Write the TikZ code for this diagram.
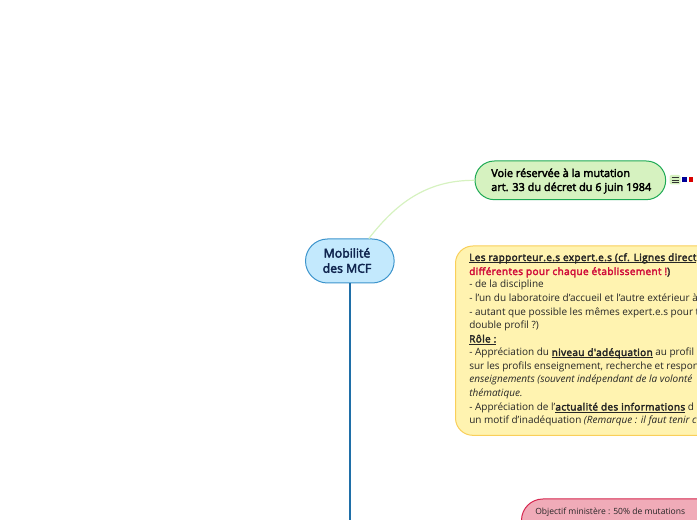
\documentclass[tikz,border=0pt]{standalone}
\usepackage{fontspec}
\setmainfont{Open Sans}
\newfontfamily\fauxbold[FakeBold=3.2]{Open Sans}
\newfontfamily\fauxboldsp[FakeBold=3.2,LetterSpace=3.6]{Open Sans}
\newcommand\fb[1]{{\fauxboldsp #1}}
\newcommand\ulbox[1]{\setbox0=\hbox{#1}\relax\rlap{\rule[-1.5pt]{\wd0}{0.55pt}}\box0\relax}
\definecolor{rootfill}{HTML}{C3E9FD}
\definecolor{rootline}{HTML}{3C94CC}
\definecolor{trunk}{HTML}{1F6FA8}
\definecolor{greenfill}{HTML}{D6F2C0}
\definecolor{greenline}{HTML}{1FAA55}
\definecolor{branch}{HTML}{D6F2C0}
\definecolor{yellowfill}{HTML}{FFF3B0}
\definecolor{yellowline}{HTML}{F9CF5A}
\definecolor{pinkfill}{HTML}{F0ABB8}
\definecolor{pinkline}{HTML}{D6264F}
\definecolor{navy}{HTML}{10254F}
\definecolor{redtext}{HTML}{D00F3C}
\tikzset{
  x=0.75pt,y=-0.75pt,
  rootnode/.style={draw=rootline,fill=rootfill,line width=0.75pt,rounded corners=16.5pt,minimum width=66.5pt,minimum height=33pt,inner sep=0pt},
  rootlabel/.style={inner sep=0pt,align=center,text=navy,font=\fontsize{9.2pt}{11.4pt}\fauxbold},
  voienode/.style={draw=greenline,fill=greenfill,line width=0.75pt,rounded corners=14.5pt,minimum width=143pt,minimum height=29pt,inner sep=0pt},
  voietext/.style={anchor=base west,inner sep=0pt,font=\fontsize{8.2pt}{11pt}\fauxbold,text=black},
  yellownode/.style={draw=yellowline,fill=yellowfill,line width=0.75pt,rounded corners=13pt,minimum width=300pt,minimum height=142pt,inner sep=0pt},
  pinknode/.style={draw=pinkline,fill=pinkfill,line width=0.75pt,rounded corners=16pt,minimum width=200pt,minimum height=60pt,inner sep=0pt},
  bodytext/.style={anchor=base west,inner sep=0pt,font=\fontsize{7.5pt}{9pt}\selectfont,text=black!85}
}
\begin{document}
\begin{tikzpicture}
\useasboundingbox (0,0) rectangle (697,520);
\begin{scope}
\clip (0,0) rectangle (697,520);
\coordinate (trunkend) at (350,530);
\node[rootnode,anchor=north west] (root) at (305,238.5) {};
\node[rootlabel] (rootl) at (347,260.5) {Mobilité\\des MCF};
\node[voienode,anchor=north west] (voie) at (474.5,160.5) {};
\node[yellownode,anchor=north west] (yellow) at (455,245.5) {};
\node[pinknode,anchor=north west] (pink) at (521,498.5) {};
\draw[branch,line width=0.9pt] (root.north)++(19,0) .. controls (395,205) and (425,180) .. (voie.west);
\draw[trunk,line width=1.1pt] (root.south) -- (root.south |- trunkend);
\node[voietext] (voie1) at (491,177) {Voie réservée à la mutation};
\node[voietext] (voie2) at (491,191) {art. 33 du décret du 6 juin 1984};
% notes icon and flag
\fill[greenfill,rounded corners=1.5pt] (669.5,175) rectangle (680.5,184.5);
\foreach \yy in {177.3,180,182.7}{\draw[black!80,line width=0.7pt] (671.5,\yy) -- (678.5,\yy);}
\fill[blue!60!black] (682,177) rectangle (687,182);
\fill[white] (687,177) rectangle (689,182);
\fill[red!85!black] (689,177) rectangle (693,182);
% yellow text
\begin{scope}
\clip[rounded corners=13pt] (455,245.5) rectangle (755,435);
\node[bodytext] (y1) at (469,261) {\ulbox{\fb{Les rapporteur.e.s expert.e.s (cf. Lignes direct}}};
\node[bodytext,text=redtext] (y2) at (469,275) {\fb{différentes pour chaque établissement !}\textcolor{black!85}{\fb{)}}};
\node[bodytext] (y3) at (469,288) {- de la discipline};
\node[bodytext] (y4) at (469,302) {- l'un du laboratoire d'accueil et l'autre extérieur à};
\node[bodytext] (y5) at (469,315.5) {- autant que possible les mêmes expert.e.s pour t};
\node[bodytext] (y6) at (469,329) {double profil ?)};
\node[bodytext] (y7) at (469,342.5) {\ulbox{\fb{Rôle :}}};
\node[bodytext] (y8) at (469,356) {- Appréciation du \ulbox{\fb{niveau d'adéquation}} au profil};
\node[bodytext] (y9) at (469,369.5) {sur les profils enseignement, recherche et respon};
\node[bodytext] (y10) at (469,383) {\itshape enseignements (souvent indépendant de la volonté};
\node[bodytext] (y11) at (469,396.5) {\itshape thématique.};
\node[bodytext] (y12) at (469,410.5) {- Appréciation de l'\ulbox{\fb{actualité des informations}} d};
\node[bodytext] (y13) at (469,424) {un motif d'inadéquation \textit{(Remarque : il faut tenir c}};
\end{scope}
% pink text
\node[bodytext,font=\fontsize{6.4pt}{8pt}\selectfont] (p1) at (535,514) {Objectif ministère : 50\% de mutations};
\end{scope}
\end{tikzpicture}
\end{document}
